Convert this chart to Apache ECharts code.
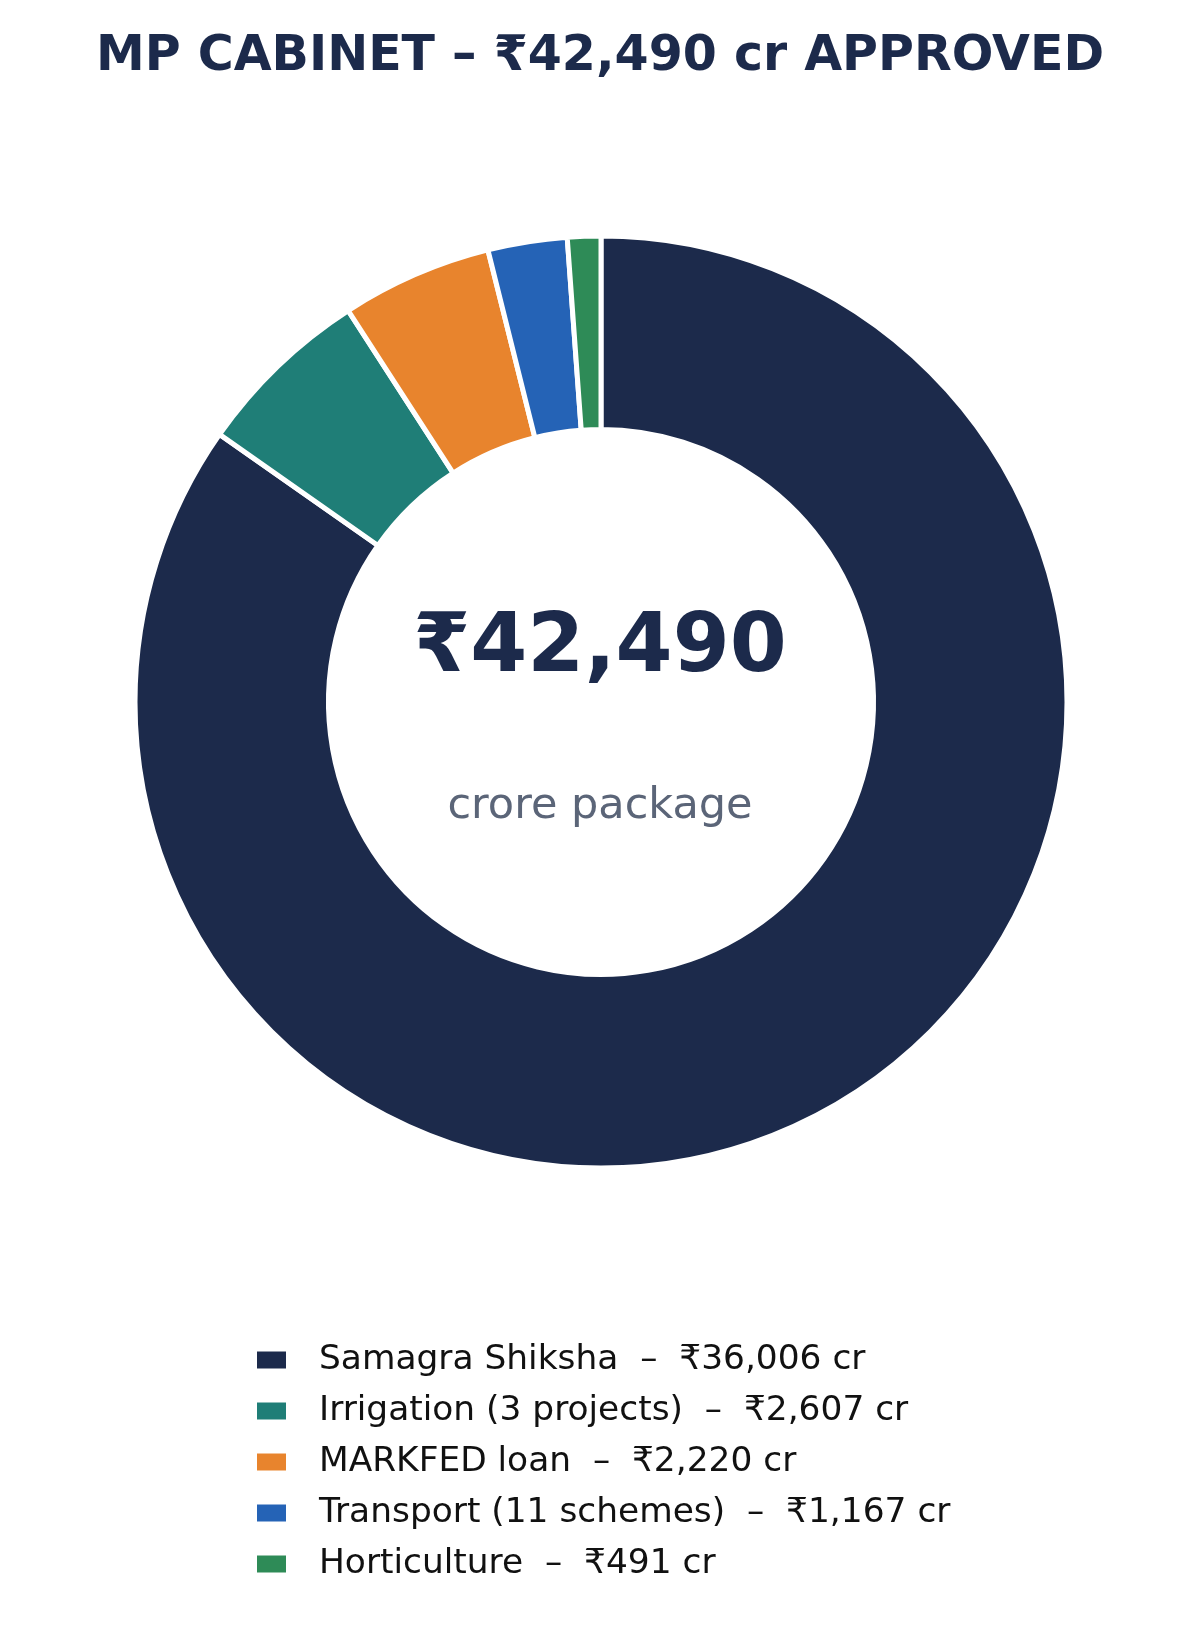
<!DOCTYPE html>
<html>
<head>
<meta charset="utf-8">
<script src="https://cdn.jsdelivr.net/npm/echarts@6/dist/echarts.min.js"></script>
<style>
html,body{margin:0;padding:0;background:#fff;}
#chart{width:1200px;height:1628px;}
</style>
</head>
<body>
<div id="chart"></div>
<script>
const titleText = 'MP CABINET \u2013 \u20B942,490 cr APPROVED';
const categories = ['Samagra Shiksha', 'Irrigation (3 projects)', 'MARKFED loan', 'Transport (11 schemes)', 'Horticulture'];
const values = [36006, 2607, 2220, 1167, 491];
const colors = ['#1c2a4b', '#1f7e77', '#e8842d', '#2563b6', '#2e8b57'];
const centerValue = '\u20B942,490';
const centerLabel = 'crore package';

const fmt = v => v.toLocaleString('en-US');
const legendNames = {};
categories.forEach((c, i) => { legendNames[c] = c + '  \u2013  \u20B9' + fmt(values[i]) + ' cr'; });

const chart = echarts.init(document.getElementById('chart'), null, {renderer: 'canvas'});
const FONT = '"DejaVu Sans", sans-serif';
chart.setOption({
  backgroundColor: '#ffffff',
  animation: false,
  title: {
    text: titleText,
    left: 'center',
    top: 28,
    textStyle: {fontFamily: FONT, fontWeight: 'bold', fontSize: 49, color: '#1c2a4b'}
  },
  legend: {
    orient: 'vertical',
    left: 252,
    top: 1335,
    itemWidth: 29,
    itemHeight: 17,
    itemGap: 11,
    icon: 'rect',
    itemStyle: {borderWidth: 0},
    formatter: n => legendNames[n],
    textStyle: {fontFamily: FONT, fontSize: 34.4, color: '#111111', lineHeight: 40, padding: [0, 0, 0, 28]},
    data: categories
  },
  graphic: [
    {type: 'text', left: 'center', top: 609, style: {text: centerValue, font: 'bold 82px ' + FONT, fill: '#1c2a4b', textAlign: 'center'}},
    {type: 'text', left: 'center', top: 785, style: {text: centerLabel, font: '43px ' + FONT, fill: '#5b6578', textAlign: 'center'}}
  ],
  series: [{
    type: 'pie',
    center: [601, 702],
    radius: [272.5, 466],
    startAngle: 90,
    clockwise: true,
    label: {show: false},
    labelLine: {show: false},
    emphasis: {disabled: true},
    itemStyle: {borderColor: '#ffffff', borderWidth: 5},
    data: categories.map((c, i) => ({name: c, value: values[i], itemStyle: {color: colors[i]}}))
  }]
});
</script>
</body>
</html>
